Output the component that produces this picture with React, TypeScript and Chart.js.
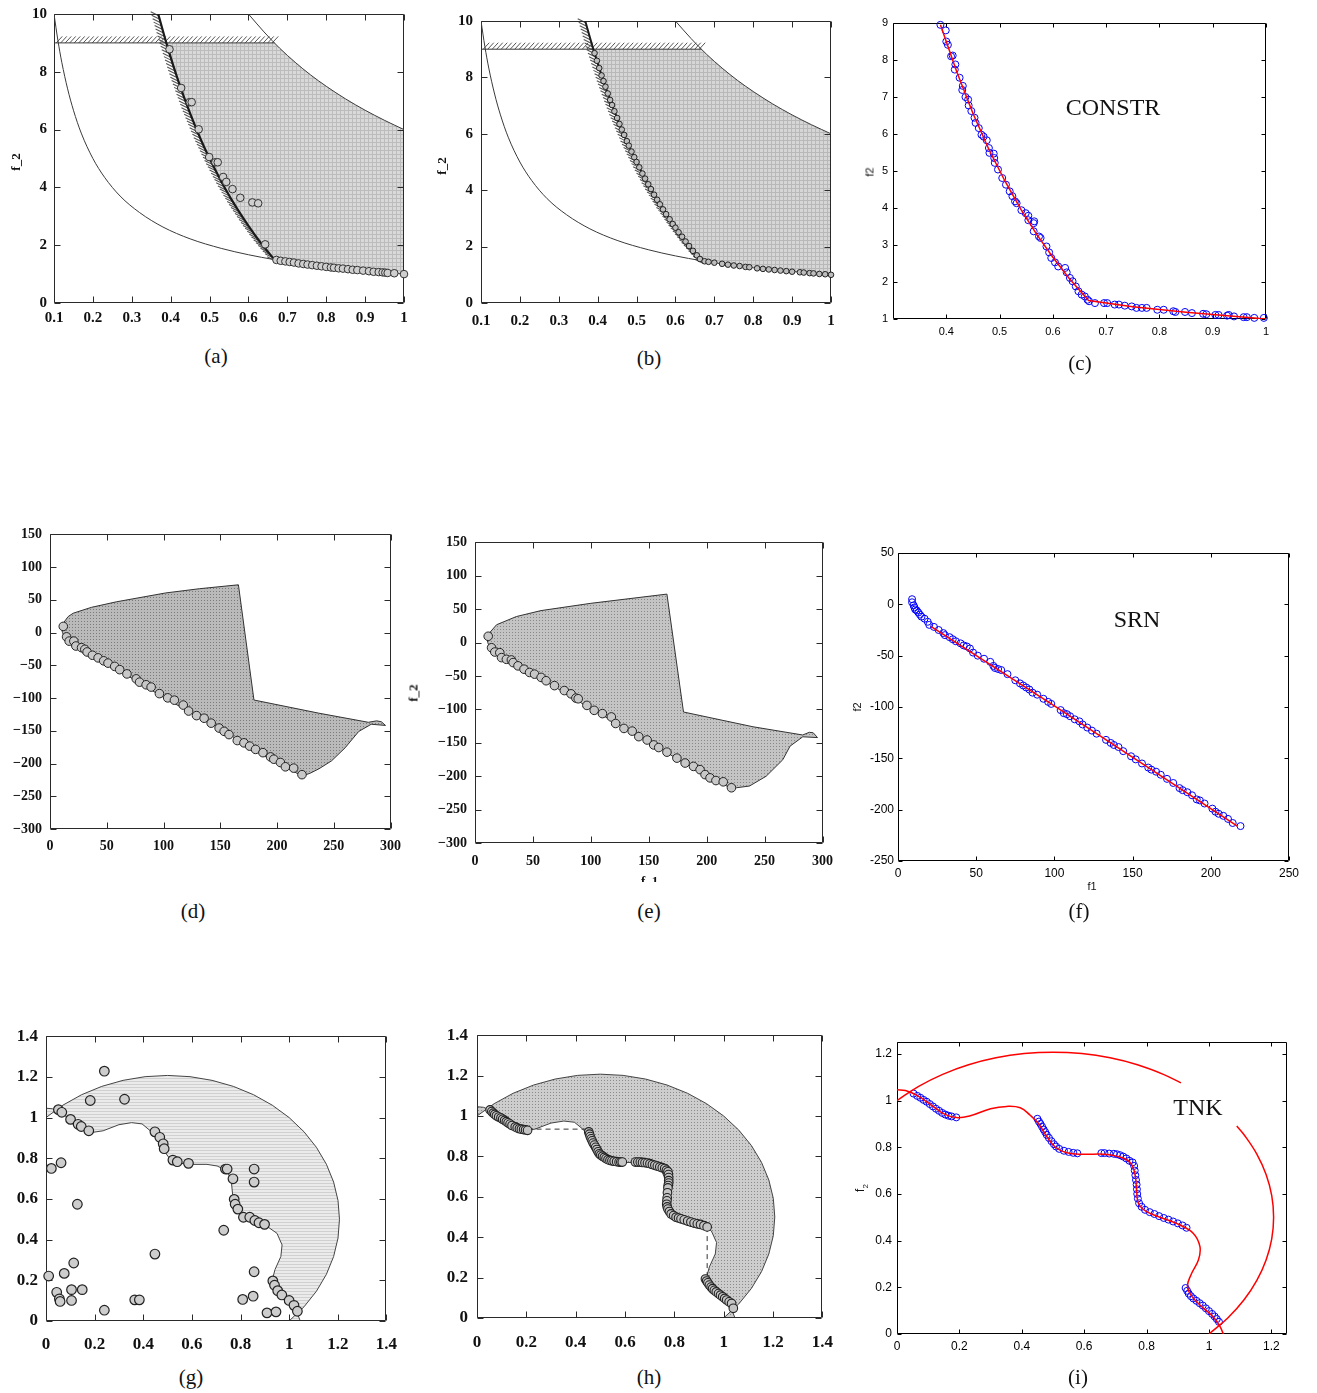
import React, { useEffect, useRef } from "react";
import { Chart, registerables } from "chart.js";

Chart.register(...registerables);

type XY = [number, number];

// ---------------- DATA ----------------
// CONSTR problem, panels (a) (b) (c)
const CONSTR_X_TICKS = [0.1, 0.2, 0.3, 0.4, 0.5, 0.6, 0.7, 0.8, 0.9, 1];
const CONSTR_Y_TICKS = [0, 2, 4, 6, 8, 10];
const CONSTR_C_X_TICKS = [0.4, 0.5, 0.6, 0.7, 0.8, 0.9, 1];
const CONSTR_C_Y_TICKS = [1, 2, 3, 4, 5, 6, 7, 8, 9];

const CONSTR_LOWER: XY[] = [[0.1, 10], [0.11, 9.09], [0.12, 8.33], [0.135, 7.41], [0.15, 6.67], [0.17, 5.88], [0.2, 5], [0.23, 4.35], [0.27, 3.7], [0.32, 3.13], [0.38, 2.63], [0.45, 2.22], [0.53, 1.89], [0.6, 1.67], [0.667, 1.5], [0.75, 1.33], [0.85, 1.18], [1, 1]];
const CONSTR_UPPER: XY[] = [[0.6, 10], [0.64, 9.38], [0.68, 8.82], [0.72, 8.33], [0.76, 7.89], [0.8, 7.5], [0.85, 7.06], [0.9, 6.67], [0.95, 6.32], [1, 6]];
const CONSTR_G1: XY[] = [[0.368, 10], [0.39, 8.95], [0.42, 7.67], [0.45, 6.56], [0.48, 5.58], [0.51, 4.73], [0.54, 3.96], [0.57, 3.28], [0.6, 2.67], [0.63, 2.11], [0.667, 1.5]];
const CONSTR_G1_HATCH: XY[] = [[0.368, 10], [0.39, 8.95], [0.42, 7.67], [0.45, 6.56], [0.48, 5.58], [0.51, 4.73], [0.54, 3.96], [0.57, 3.28], [0.6, 2.67], [0.63, 2.11], [0.667, 1.5], [0.673, 1.36]];
const CONSTR_G2: XY[] = [[0.1, 9], [0.667, 9]];
const CONSTR_REGION: XY[] = [[0.389, 9], [0.39, 8.95], [0.42, 7.67], [0.45, 6.56], [0.48, 5.58], [0.51, 4.73], [0.54, 3.96], [0.57, 3.28], [0.6, 2.67], [0.63, 2.11], [0.667, 1.5], [0.75, 1.33], [0.85, 1.18], [1, 1], [1, 6], [0.95, 6.32], [0.9, 6.67], [0.85, 7.06], [0.8, 7.5], [0.76, 7.89], [0.72, 8.33], [0.68, 8.82], [0.667, 9]];

const A_POINTS: XY[] = [[0.397, 8.78], [0.427, 7.44], [0.449, 6.95], [0.454, 6.95], [0.472, 6.01], [0.499, 5.05], [0.515, 4.87], [0.521, 4.87], [0.535, 4.36], [0.543, 4.19], [0.559, 3.94], [0.579, 3.64], [0.61, 3.48], [0.625, 3.45], [0.643, 2.03], [0.672, 1.49], [0.683, 1.46], [0.695, 1.44], [0.706, 1.42], [0.717, 1.4], [0.729, 1.37], [0.741, 1.35], [0.752, 1.33], [0.764, 1.31], [0.776, 1.29], [0.788, 1.27], [0.8, 1.25], [0.812, 1.23], [0.82, 1.22], [0.832, 1.2], [0.843, 1.19], [0.856, 1.17], [0.868, 1.15], [0.88, 1.14], [0.895, 1.12], [0.91, 1.1], [0.922, 1.08], [0.935, 1.07], [0.945, 1.06], [0.952, 1.05], [0.958, 1.04], [0.975, 1.03], [1.0, 1.0]];

const B_POINTS: XY[] = [[0.392, 8.86], [0.398, 8.59], [0.404, 8.33], [0.41, 8.07], [0.415, 7.87], [0.42, 7.67], [0.426, 7.43], [0.432, 7.2], [0.437, 7.02], [0.443, 6.8], [0.45, 6.56], [0.456, 6.35], [0.462, 6.15], [0.468, 5.96], [0.475, 5.74], [0.48, 5.58], [0.487, 5.37], [0.494, 5.17], [0.5, 5.0], [0.507, 4.81], [0.515, 4.59], [0.522, 4.41], [0.53, 4.21], [0.537, 4.04], [0.545, 3.84], [0.553, 3.66], [0.56, 3.5], [0.568, 3.32], [0.576, 3.15], [0.585, 2.97], [0.593, 2.8], [0.6, 2.67], [0.608, 2.51], [0.617, 2.35], [0.626, 2.18], [0.635, 2.02], [0.645, 1.85], [0.655, 1.69], [0.663, 1.56], [0.675, 1.48], [0.685, 1.46], [0.7, 1.43], [0.72, 1.39], [0.735, 1.36], [0.75, 1.33], [0.765, 1.31], [0.78, 1.28], [0.79, 1.27], [0.81, 1.23], [0.825, 1.21], [0.84, 1.19], [0.855, 1.17], [0.87, 1.15], [0.885, 1.13], [0.9, 1.11], [0.92, 1.09], [0.93, 1.08], [0.945, 1.06], [0.955, 1.05], [0.97, 1.03], [0.985, 1.02], [1.0, 1.0]];

const C_FRONT: XY[] = [[0.389, 8.95], [0.42, 7.67], [0.45, 6.56], [0.48, 5.58], [0.51, 4.73], [0.54, 3.96], [0.57, 3.28], [0.6, 2.67], [0.63, 2.11], [0.667, 1.5], [0.75, 1.33], [0.85, 1.18], [1, 1]];
const C_POINTS: XY[] = [[0.389, 8.95], [0.399, 8.8], [0.4, 8.5], [0.403, 8.41], [0.409, 8.1], [0.412, 8.12], [0.417, 7.88], [0.416, 7.74], [0.425, 7.52], [0.431, 7.3], [0.43, 7.19], [0.436, 7.0], [0.441, 6.93], [0.442, 6.77], [0.447, 6.62], [0.453, 6.44], [0.455, 6.3], [0.461, 6.16], [0.466, 5.98], [0.47, 5.93], [0.476, 5.83], [0.48, 5.62], [0.481, 5.49], [0.489, 5.47], [0.49, 5.35], [0.491, 5.22], [0.497, 5.04], [0.505, 4.81], [0.512, 4.63], [0.519, 4.45], [0.524, 4.32], [0.529, 4.18], [0.532, 4.13], [0.541, 3.94], [0.549, 3.86], [0.554, 3.79], [0.554, 3.67], [0.564, 3.59], [0.565, 3.64], [0.564, 3.37], [0.574, 3.23], [0.577, 3.19], [0.588, 2.96], [0.593, 2.8], [0.597, 2.65], [0.604, 2.53], [0.61, 2.42], [0.623, 2.38], [0.626, 2.26], [0.632, 2.11], [0.637, 2.02], [0.643, 1.88], [0.648, 1.75], [0.654, 1.66], [0.66, 1.61], [0.665, 1.52], [0.668, 1.48], [0.679, 1.43], [0.696, 1.43], [0.702, 1.43], [0.716, 1.39], [0.724, 1.39], [0.735, 1.36], [0.748, 1.34], [0.757, 1.3], [0.767, 1.3], [0.776, 1.3], [0.796, 1.25], [0.808, 1.25], [0.826, 1.21], [0.83, 1.19], [0.848, 1.19], [0.861, 1.16], [0.882, 1.14], [0.888, 1.13], [0.905, 1.11], [0.911, 1.11], [0.927, 1.09], [0.93, 1.11], [0.94, 1.07], [0.958, 1.05], [0.964, 1.05], [0.978, 1.03], [0.996, 1.03]];

// SRN problem, panels (d) (e) (f)
const SRN_X_TICKS = [0, 50, 100, 150, 200, 250, 300];
const SRN_Y_TICKS = [-300, -250, -200, -150, -100, -50, 0, 50, 100, 150];
const SRN_F_X_TICKS = [0, 50, 100, 150, 200, 250];
const SRN_F_Y_TICKS = [-250, -200, -150, -100, -50, 0, 50];

const D_REGION: XY[] = [[9.6, 9.5], [16, 24.5], [20.4, 29.6], [36.5, 38.6], [58.4, 47], [102, 60.6], [131.5, 67], [166, 73], [179.7, -103], [236.6, -123], [280.5, -137], [287.8, -134.8], [292, -136.2], [295.6, -141.8], [283, -140], [272, -151], [260, -176], [248, -196], [237, -208], [229, -215], [222, -219], [180, -180], [150, -147], [100, -99], [60, -57], [30, -27], [22, -21], [17, -15], [13, -8], [11, 0]];
const D_POINTS: XY[] = [[11.7, 9.5], [14.6, -6.5], [16.9, -13], [21, -13], [22.8, -20.5], [27.8, -23], [30.7, -25.6], [32.7, -29.6], [37.4, -34.6], [42.4, -38.6], [47.3, -43.1], [51.1, -46.6], [57, -51.6], [61.4, -56.6], [67.8, -63.1], [76, -70.7], [78.9, -75.7], [84.7, -79.7], [89.1, -83.2], [96.4, -93.2], [103.7, -99.7], [109.6, -103.2], [117.4, -110.7], [122.1, -119.8], [129.1, -126.8], [135.8, -130.8], [142, -138.3], [149, -145.8], [153.4, -150.8], [157.7, -155.8], [165, -164.9], [170.9, -168.4], [175.9, -173.4], [181.1, -178.4], [187.6, -183.4], [194.3, -189.9], [197.2, -193.4], [203, -198.4], [207.4, -205], [214.7, -207], [222, -217]];

const E_REGION: XY[] = [[10, 9.5], [18.6, 26.7], [35.7, 39], [57, 47.9], [100, 58.8], [165.7, 72.6], [180, -103.9], [240, -126], [282.9, -138.3], [288.6, -134.3], [292, -135], [295.7, -142.2], [283, -141], [272, -155], [265.7, -175.4], [251.4, -200], [237, -214.7], [225.7, -217.3], [222, -219], [180, -180], [150, -148], [100, -99], [60, -57], [30, -27], [22, -21], [17, -15], [13, -8], [11, 0]];
const E_POINTS: XY[] = [[11.4, 9.5], [14.3, -7.7], [17.1, -14.1], [21.4, -15.1], [22.9, -22.5], [27.1, -25], [31.4, -26], [32.9, -29.9], [37.1, -34.8], [42.3, -39.8], [47.1, -44.7], [51.4, -47.2], [57.1, -52.1], [61.4, -57.1], [68.6, -64.4], [77.1, -71.8], [82.9, -76.7], [87.1, -83.1], [89.1, -84.1], [96.6, -94], [102.9, -101.4], [110, -106.3], [117.7, -111.3], [121.4, -121.1], [128.6, -128.5], [135.7, -132.5], [141.4, -140.8], [148.6, -145.8], [154.3, -153.2], [158.6, -157.1], [165.7, -164], [174.3, -172.9], [181.4, -180.3], [188.6, -185.3], [194.3, -190.2], [198.6, -197.6], [202.9, -202.5], [208, -206.5], [214.3, -208.4], [221.4, -217.3]];

const F_FRONT: XY[] = [[21, -21.5], [100, -99], [217, -216]];
const F_POINTS: XY[] = [[9, 5], [9, 2], [10, -1], [10.5, -3], [11, -5], [12, -6], [13, -8], [14, -10], [15, -12], [17, -14], [19, -17], [20, -20], [23, -22], [26, -25], [29, -28], [30, -30], [33, -32], [35, -34], [37, -36], [40, -38], [42, -40], [44, -41], [46, -43], [48, -47], [51, -50], [55, -53], [59, -56], [61, -60], [62, -62], [64, -63], [66, -64], [70, -68], [75, -74], [78, -77], [80, -79], [82, -81], [84, -83], [86, -86], [89, -88], [93, -92], [96, -95], [98, -97], [104, -103], [106, -106], [108, -107], [110, -109], [113, -112], [116, -114], [118, -117], [121, -120], [124, -123], [127, -126], [133, -132], [136, -135], [138, -137], [141, -139], [144, -143], [149, -148], [152, -151], [156, -155], [160, -159], [162, -161], [165, -163], [168, -166], [172, -170], [176, -174], [180, -179], [182, -181], [185, -183], [188, -186], [191, -190], [193, -191], [196, -194], [201, -199], [203, -202], [205, -204], [208, -206], [211, -209], [214, -213], [219, -216]];

// TNK problem, panels (g) (h) (i)
const TNK_TICKS = [0, 0.2, 0.4, 0.6, 0.8, 1, 1.2, 1.4];
const TNK_I_TICKS = [0, 0.2, 0.4, 0.6, 0.8, 1, 1.2];
const TNK_ARC: XY[] = [[0, 1], [0.0695, 1.061], [0.1464, 1.1124], [0.2294, 1.1533], [0.317, 1.183], [0.4077, 1.2011], [0.5, 1.2071], [0.5923, 1.2011], [0.683, 1.183], [0.7706, 1.1533], [0.8536, 1.1124], [0.9305, 1.061], [1, 1], [1.061, 0.9305], [1.1124, 0.8536], [1.1533, 0.7706], [1.183, 0.683], [1.2011, 0.5923], [1.2071, 0.5], [1.2011, 0.4077], [1.183, 0.317], [1.1533, 0.2294], [1.1124, 0.1464], [1.061, 0.0695], [1, 0]];
const TNK_INNER: XY[] = [[0, 1.046], [0.027, 1.043], [0.064, 1.022], [0.107, 0.984], [0.149, 0.944], [0.19, 0.927], [0.235, 0.935], [0.3, 0.965], [0.352, 0.975], [0.395, 0.969], [0.427, 0.937], [0.454, 0.901], [0.48, 0.846], [0.507, 0.801], [0.544, 0.776], [0.6, 0.77], [0.662, 0.77], [0.704, 0.762], [0.745, 0.738], [0.762, 0.69], [0.768, 0.616], [0.774, 0.559], [0.8, 0.524], [0.854, 0.495], [0.907, 0.467], [0.95, 0.431], [0.971, 0.374], [0.966, 0.317], [0.942, 0.253], [0.931, 0.204], [0.945, 0.161], [0.982, 0.111], [1.014, 0.073], [1.035, 0.033], [1.046, 0]];
const I_ARC_TOP: XY[] = [[0, 1], [0.0695, 1.061], [0.1464, 1.1124], [0.2294, 1.1533], [0.317, 1.183], [0.4077, 1.2011], [0.5, 1.2071], [0.5923, 1.2011], [0.683, 1.183], [0.7706, 1.1533], [0.8536, 1.1124], [0.91, 1.076]];
const I_ARC_RIGHT: XY[] = [[1.089, 0.891], [1.1124, 0.8536], [1.1533, 0.7706], [1.183, 0.683], [1.2011, 0.5923], [1.2071, 0.5], [1.2011, 0.4077], [1.183, 0.317], [1.1533, 0.2294], [1.1124, 0.1464], [1.061, 0.0695], [1, 0]];

const G_POINTS: XY[] = [[0.24, 1.228], [0.182, 1.084], [0.323, 1.09], [0.051, 1.039], [0.065, 1.026], [0.101, 0.991], [0.132, 0.967], [0.145, 0.956], [0.176, 0.935], [0.022, 0.75], [0.062, 0.778], [0.129, 0.574], [0.448, 0.93], [0.468, 0.903], [0.482, 0.871], [0.486, 0.847], [0.522, 0.791], [0.54, 0.783], [0.586, 0.775], [0.738, 0.747], [0.745, 0.747], [0.769, 0.699], [0.774, 0.598], [0.778, 0.574], [0.789, 0.55], [0.812, 0.51], [0.838, 0.51], [0.859, 0.494], [0.876, 0.483], [0.899, 0.475], [0.856, 0.747], [0.856, 0.683], [0.731, 0.446], [0.448, 0.329], [0.856, 0.242], [0.933, 0.197], [0.94, 0.176], [0.953, 0.149], [0.97, 0.128], [1.0, 0.101], [1.02, 0.077], [1.034, 0.048], [0.011, 0.221], [0.044, 0.141], [0.055, 0.109], [0.058, 0.096], [0.075, 0.234], [0.114, 0.285], [0.105, 0.154], [0.149, 0.154], [0.105, 0.101], [0.24, 0.053], [0.365, 0.104], [0.384, 0.104], [0.809, 0.106], [0.852, 0.122], [0.909, 0.04], [0.946, 0.045]];

const H_DASH_TOP: XY[] = [[0.205, 0.935], [0.45, 0.935]];
const H_DASH_RIGHT: XY[] = [[0.933, 0.45], [0.933, 0.2]];
const H_POINTS: XY[] = [[0.053, 1.03], [0.06, 1.022], [0.066, 1.014], [0.072, 1.008], [0.079, 1.001], [0.088, 0.995], [0.097, 0.99], [0.104, 0.984], [0.112, 0.978], [0.119, 0.972], [0.126, 0.966], [0.134, 0.96], [0.142, 0.953], [0.155, 0.946], [0.163, 0.941], [0.172, 0.937], [0.18, 0.935], [0.189, 0.933], [0.197, 0.931], [0.205, 0.929], [0.453, 0.921], [0.456, 0.91], [0.459, 0.898], [0.463, 0.887], [0.467, 0.877], [0.471, 0.866], [0.476, 0.856], [0.481, 0.845], [0.486, 0.834], [0.491, 0.823], [0.496, 0.813], [0.502, 0.807], [0.509, 0.801], [0.516, 0.795], [0.523, 0.789], [0.531, 0.784], [0.539, 0.78], [0.547, 0.778], [0.556, 0.776], [0.566, 0.774], [0.576, 0.772], [0.583, 0.772], [0.589, 0.772], [0.642, 0.772], [0.652, 0.772], [0.662, 0.772], [0.671, 0.77], [0.681, 0.769], [0.691, 0.767], [0.701, 0.764], [0.711, 0.76], [0.721, 0.756], [0.731, 0.752], [0.741, 0.748], [0.751, 0.744], [0.761, 0.74], [0.768, 0.732], [0.774, 0.724], [0.776, 0.71], [0.777, 0.695], [0.777, 0.68], [0.777, 0.668], [0.775, 0.656], [0.774, 0.644], [0.772, 0.62], [0.771, 0.595], [0.77, 0.58], [0.769, 0.563], [0.771, 0.55], [0.774, 0.539], [0.78, 0.527], [0.787, 0.515], [0.797, 0.507], [0.807, 0.499], [0.817, 0.495], [0.827, 0.491], [0.84, 0.486], [0.854, 0.48], [0.867, 0.475], [0.88, 0.47], [0.893, 0.466], [0.906, 0.463], [0.92, 0.457], [0.933, 0.451], [0.926, 0.193], [0.931, 0.183], [0.936, 0.174], [0.942, 0.163], [0.949, 0.153], [0.955, 0.145], [0.962, 0.137], [0.97, 0.129], [0.979, 0.121], [0.987, 0.113], [0.996, 0.105], [1.004, 0.097], [1.012, 0.089], [1.022, 0.08], [1.032, 0.072], [1.039, 0.048]];

const I_POINTS: XY[] = [[0.053, 1.03], [0.065, 1.02], [0.075, 1.012], [0.085, 1.003], [0.095, 0.995], [0.105, 0.985], [0.115, 0.975], [0.125, 0.965], [0.135, 0.956], [0.145, 0.947], [0.155, 0.94], [0.165, 0.935], [0.175, 0.932], [0.19, 0.928], [0.45, 0.922], [0.455, 0.91], [0.46, 0.9], [0.465, 0.888], [0.47, 0.876], [0.475, 0.865], [0.48, 0.853], [0.487, 0.84], [0.495, 0.826], [0.503, 0.813], [0.51, 0.803], [0.52, 0.793], [0.535, 0.785], [0.55, 0.78], [0.565, 0.776], [0.578, 0.774], [0.655, 0.775], [0.665, 0.775], [0.68, 0.773], [0.695, 0.772], [0.705, 0.77], [0.715, 0.766], [0.725, 0.76], [0.735, 0.752], [0.745, 0.742], [0.755, 0.735], [0.76, 0.72], [0.762, 0.7], [0.764, 0.68], [0.766, 0.66], [0.768, 0.64], [0.769, 0.62], [0.77, 0.6], [0.772, 0.58], [0.776, 0.56], [0.784, 0.545], [0.795, 0.532], [0.81, 0.522], [0.825, 0.514], [0.84, 0.505], [0.855, 0.497], [0.87, 0.49], [0.885, 0.482], [0.9, 0.474], [0.915, 0.465], [0.928, 0.455], [0.925, 0.197], [0.93, 0.185], [0.935, 0.173], [0.942, 0.162], [0.95, 0.152], [0.96, 0.142], [0.97, 0.132], [0.98, 0.122], [0.99, 0.11], [1.0, 0.098], [1.01, 0.086], [1.018, 0.075], [1.025, 0.064], [1.032, 0.052]];

// ---------------- STYLE / LAYOUT ----------------
const SERIF = "'Liberation Serif', 'Times New Roman', serif";
const SANS = "'Liberation Sans', Arial, Helvetica, sans-serif";
const YW = 50, XH = 34, PL = 4, PT = 12, PR = 18, PB = 4;

const toPts = (a: XY[]) => a.map(([x, y]) => ({ x, y }));

function makePattern(base: string, ink: string, kind: string): any {
  const n = kind === "grid" ? 4 : 3;
  const c = document.createElement("canvas");
  c.width = n; c.height = n;
  const g = c.getContext("2d");
  if (!g) return base;
  g.fillStyle = base; g.fillRect(0, 0, n, n);
  g.fillStyle = ink;
  if (kind === "grid") { g.fillRect(0, 0, n, 1); g.fillRect(0, 0, 1, n); }
  else if (kind === "dots") { g.fillRect(1, 1, 1, 1); }
  else if (kind === "hlines") { g.fillRect(0, 0, n, 1); }
  return g.createPattern(c, "repeat") || base;
}

const regionPlugin = {
  id: "regionFill",
  beforeDatasetsDraw(chart: any) {
    const ctx = chart.ctx, a = chart.chartArea;
    chart.data.datasets.forEach((ds: any, i: number) => {
      if (!ds.region) return;
      const pts = chart.getDatasetMeta(i).data;
      if (!pts.length) return;
      ctx.save();
      ctx.beginPath(); ctx.rect(a.left, a.top, a.right - a.left, a.bottom - a.top); ctx.clip();
      ctx.beginPath();
      pts.forEach((p: any, k: number) => (k ? ctx.lineTo(p.x, p.y) : ctx.moveTo(p.x, p.y)));
      ctx.closePath();
      ctx.fillStyle = ds.region.fill; ctx.fill();
      if (ds.region.stroke) { ctx.strokeStyle = ds.region.stroke; ctx.lineWidth = 1; ctx.lineJoin = "round"; ctx.stroke(); }
      ctx.restore();
    });
  },
};

const hatchPlugin = {
  id: "hatchMarks",
  beforeDatasetsDraw(chart: any) {
    const ctx = chart.ctx;
    chart.data.datasets.forEach((ds: any, i: number) => {
      const h = ds.hatch;
      if (!h) return;
      const pts = chart.getDatasetMeta(i).data;
      ctx.save();
      ctx.strokeStyle = h.color; ctx.lineWidth = h.width;
      ctx.beginPath();
      let t = h.step / 2;
      for (let k = 1; k < pts.length; k++) {
        const x0 = pts[k - 1].x, y0 = pts[k - 1].y, x1 = pts[k].x, y1 = pts[k].y;
        const L = Math.hypot(x1 - x0, y1 - y0);
        while (t <= L) {
          const px = x0 + ((x1 - x0) * t) / L, py = y0 + ((y1 - y0) * t) / L;
          ctx.moveTo(px, py); ctx.lineTo(px + h.dx, py + h.dy);
          t += h.step;
        }
        t -= L;
      }
      ctx.stroke();
      ctx.restore();
    });
  },
};

function framePlugin(color: string, len: number) {
  return {
    id: "boxFrame",
    beforeDatasetsDraw(chart: any) {
      const { ctx, chartArea: a, scales } = chart;
      const l = Math.round(a.left) + 0.5, r = Math.round(a.right) - 0.5;
      const t = Math.round(a.top) + 0.5, b = Math.round(a.bottom) - 0.5;
      ctx.save();
      ctx.strokeStyle = color; ctx.lineWidth = 1;
      ctx.beginPath();
      ctx.rect(l, t, r - l, b - t);
      scales.x.ticks.forEach((tk: any) => {
        const px = Math.round(scales.x.getPixelForValue(tk.value)) + 0.5;
        ctx.moveTo(px, b); ctx.lineTo(px, b - len);
        ctx.moveTo(px, t); ctx.lineTo(px, t + len);
      });
      scales.y.ticks.forEach((tk: any) => {
        const py = Math.round(scales.y.getPixelForValue(tk.value)) + 0.5;
        ctx.moveTo(l, py); ctx.lineTo(l + len, py);
        ctx.moveTo(r, py); ctx.lineTo(r - len, py);
      });
      ctx.stroke();
      ctx.restore();
    },
  };
}

const regionDs = (a: XY[], fill: any, stroke?: string) => ({ data: toPts(a), showLine: false, pointRadius: 0, pointHoverRadius: 0, region: { fill, stroke }, order: 5 });
const lineDs = (a: XY[], color: string, width: number, extra: any = {}) => ({ data: toPts(a), showLine: true, pointRadius: 0, pointHoverRadius: 0, borderColor: color, borderWidth: width, fill: false, tension: 0, order: 3, ...extra });
const hatchDs = (a: XY[], hatch: any) => ({ data: toPts(a), showLine: false, pointRadius: 0, pointHoverRadius: 0, hatch, order: 6 });
const dotDs = (a: XY[], r: number, fillC: string, stroke: string, bw: number, order = 2) => ({ data: toPts(a), showLine: false, pointRadius: r, pointHoverRadius: r, pointBackgroundColor: fillC, pointBorderColor: stroke, pointBorderWidth: bw, clip: false, order });

const G1_HATCH = { dx: -8, dy: -4, step: 3.6, color: "#555", width: 1.1 };
const G2_HATCH = { dx: 6, dy: -6.5, step: 4.5, color: "#555", width: 1 };

const PANELS: any[] = [
  {
    id: "a", box: [54, 10, 404, 303], style: "serif", fontSize: 15, xPad: 6, yPad: 7,
    x: { min: 0.1, max: 1, ticks: CONSTR_X_TICKS }, y: { min: 0, max: 10, ticks: CONSTR_Y_TICKS },
    make: () => [
      regionDs(CONSTR_REGION, makePattern("#d9d9d9", "#bcbcbc", "grid")),
      hatchDs(CONSTR_G1_HATCH, G1_HATCH),
      hatchDs(CONSTR_G2, G2_HATCH),
      lineDs(CONSTR_LOWER, "#3a3a3a", 1, { cubicInterpolationMode: "monotone" }),
      lineDs(CONSTR_UPPER, "#3a3a3a", 1, { cubicInterpolationMode: "monotone" }),
      lineDs(CONSTR_G1, "#1a1a1a", 2.2, { cubicInterpolationMode: "monotone" }),
      lineDs(CONSTR_G2, "#3a3a3a", 1),
      dotDs(A_POINTS, 3.8, "#cfcfcf", "#333", 1),
    ],
  },
  {
    id: "b", box: [481, 16, 831, 303], style: "serif", fontSize: 15, xPad: 9, yPad: 8,
    x: { min: 0.1, max: 1, ticks: CONSTR_X_TICKS }, y: { min: 0, max: 10, ticks: CONSTR_Y_TICKS },
    make: () => [
      regionDs(CONSTR_REGION, makePattern("#d6d6d6", "#b8b8b8", "grid")),
      hatchDs(CONSTR_G1_HATCH, G1_HATCH),
      hatchDs(CONSTR_G2, G2_HATCH),
      lineDs(CONSTR_LOWER, "#3a3a3a", 1, { cubicInterpolationMode: "monotone" }),
      lineDs(CONSTR_UPPER, "#3a3a3a", 1, { cubicInterpolationMode: "monotone" }),
      lineDs(CONSTR_G1, "#1a1a1a", 2, { cubicInterpolationMode: "monotone" }),
      lineDs(CONSTR_G2, "#3a3a3a", 1),
      dotDs(B_POINTS, 2.8, "#bdbdbd", "#222", 1),
    ],
  },
  {
    id: "c", box: [893, 23, 1266, 319], style: "matlab", fontSize: 11, xPad: 6, yPad: 5,
    x: { min: 0.3, max: 1, ticks: CONSTR_C_X_TICKS }, y: { min: 1, max: 9, ticks: CONSTR_C_Y_TICKS },
    make: () => [
      lineDs(C_FRONT, "#ff0000", 1.5, { order: 1 }),
      dotDs(C_POINTS, 3.5, "rgba(0,0,0,0)", "#0000ff", 1),
    ],
  },
  {
    id: "d", box: [50, 530, 392, 829], style: "serif", fontSize: 14, xPad: 9, yPad: 8,
    x: { min: 0, max: 300, ticks: SRN_X_TICKS }, y: { min: -300, max: 150, ticks: SRN_Y_TICKS },
    make: () => [
      regionDs(D_REGION, makePattern("#bababa", "#7a7a7a", "dots"), "#333"),
      dotDs(D_POINTS, 4.3, "#c8c8c8", "#222", 1),
    ],
  },
  {
    id: "e", box: [475, 538, 825, 843], style: "serif", fontSize: 14, xPad: 10, yPad: 8,
    x: { min: 0, max: 300, ticks: SRN_X_TICKS }, y: { min: -300, max: 150, ticks: SRN_Y_TICKS },
    make: () => [
      regionDs(E_REGION, makePattern("#c4c4c4", "#888888", "dots"), "#333"),
      dotDs(E_POINTS, 4.3, "#c8c8c8", "#222", 1),
    ],
  },
  {
    id: "f", box: [898, 553, 1289, 861], style: "matlab", fontSize: 12, xPad: 5, yPad: 4,
    x: { min: 0, max: 250, ticks: SRN_F_X_TICKS }, y: { min: -250, max: 50, ticks: SRN_F_Y_TICKS },
    make: () => [
      lineDs(F_FRONT, "#ff0000", 1.5, { order: 1 }),
      dotDs(F_POINTS, 3.5, "rgba(0,0,0,0)", "#0000ff", 1),
    ],
  },
  {
    id: "g", box: [46, 1030, 392, 1321], style: "serif", fontSize: 17, xPad: 13, yPad: 8,
    x: { min: 0, max: 1.4, ticks: TNK_TICKS }, y: { min: 0, max: 1.4, ticks: TNK_TICKS },
    make: () => [
      regionDs([...TNK_ARC, ...TNK_INNER.slice().reverse()], makePattern("#ebebeb", "#d0d0d0", "hlines"), "#444"),
      dotDs(G_POINTS, 4.8, "#cdcdcd", "#222", 1.2),
    ],
  },
  {
    id: "h", box: [477, 1028, 829, 1318], style: "serif", fontSize: 17, xPad: 14, yPad: 9,
    x: { min: 0, max: 1.4, ticks: TNK_TICKS }, y: { min: 0, max: 1.4, ticks: TNK_TICKS },
    make: () => [
      regionDs([...TNK_ARC, ...TNK_INNER.slice().reverse()], makePattern("#cdcdcd", "#8a8a8a", "dots"), "#444"),
      lineDs(H_DASH_TOP, "#333", 1, { borderDash: [5, 4] }),
      lineDs(H_DASH_RIGHT, "#333", 1, { borderDash: [5, 4] }),
      dotDs(H_POINTS, 4.3, "#c4c4c4", "#222", 1.1),
    ],
  },
  {
    id: "i", box: [897, 1042, 1287, 1334], style: "matlab", fontSize: 12, xPad: 5, yPad: 5,
    x: { min: 0, max: 1.25, ticks: TNK_I_TICKS }, y: { min: 0, max: 1.25, ticks: TNK_I_TICKS },
    make: () => [
      lineDs(I_ARC_TOP, "#ff0000", 1.5, { tension: 0.4, order: 1 }),
      lineDs(I_ARC_RIGHT, "#ff0000", 1.5, { tension: 0.4, order: 1 }),
      lineDs(TNK_INNER, "#ff0000", 1.5, { tension: 0.4, order: 1 }),
      dotDs(I_POINTS, 3.5, "rgba(0,0,0,0)", "#0000ff", 1),
    ],
  },
];

function buildConfig(p: any): any {
  const serif = p.style === "serif";
  const minus = serif ? "\u2212" : "-";
  const font = { family: serif ? SERIF : SANS, size: p.fontSize, weight: serif ? "bold" : "normal" };
  const color = serif ? "#111" : "#000";
  const fmt = (v: any) => String(Math.round(Number(v) * 1000) / 1000).replace("-", minus);
  const axis = (ax: any, isX: boolean) => ({
    type: "linear",
    position: isX ? "bottom" : "left",
    min: ax.min,
    max: ax.max,
    afterBuildTicks: (s: any) => { s.ticks = ax.ticks.map((v: number) => ({ value: v })); },
    afterFit: (s: any) => { if (isX) s.height = XH; else s.width = YW; },
    grid: { display: false, drawTicks: false },
    border: { display: false },
    ticks: { font, color, padding: isX ? p.xPad : p.yPad, maxRotation: 0, minRotation: 0, autoSkip: false, callback: fmt },
  });
  return {
    type: "scatter",
    data: { datasets: p.make() },
    options: {
      responsive: false,
      animation: false,
      events: [],
      layout: { padding: { left: PL, top: PT, right: PR, bottom: PB } },
      plugins: { legend: { display: false }, tooltip: { enabled: false } },
      scales: { x: axis(p.x, true), y: axis(p.y, false) },
    },
    plugins: [regionPlugin, hatchPlugin, framePlugin(serif ? "#2a2a2a" : "#000", serif ? 6 : 4)],
  };
}

function Panel({ p }: { p: any }) {
  const ref = useRef<HTMLCanvasElement>(null);
  const w = p.box[2] - p.box[0] + YW + PL + PR;
  const h = p.box[3] - p.box[1] + PT + XH + PB;
  const left = p.box[0] - YW - PL;
  const top = p.box[1] - PT;
  useEffect(() => {
    if (!ref.current) return;
    const chart = new Chart(ref.current, buildConfig(p));
    return () => chart.destroy();
  }, []);
  return <canvas ref={ref} width={w} height={h} style={{ position: "absolute", left, top, width: w, height: h }} />;
}

type Txt = { x: number; y: number; t: any; f: string; rot?: boolean };
const TEXTS: Txt[] = [
  { x: 216, y: 356, t: "(a)", f: `21px ${SERIF}` },
  { x: 649, y: 358, t: "(b)", f: `21px ${SERIF}` },
  { x: 1080, y: 363, t: "(c)", f: `21px ${SERIF}` },
  { x: 193, y: 911, t: "(d)", f: `21px ${SERIF}` },
  { x: 649, y: 911, t: "(e)", f: `21px ${SERIF}` },
  { x: 1079, y: 911, t: "(f)", f: `21px ${SERIF}` },
  { x: 191, y: 1377, t: "(g)", f: `21px ${SERIF}` },
  { x: 649, y: 1377, t: "(h)", f: `21px ${SERIF}` },
  { x: 1078, y: 1377, t: "(i)", f: `21px ${SERIF}` },
  { x: 15, y: 162, t: "f_2", f: `bold 13px ${SERIF}`, rot: true },
  { x: 441, y: 166, t: "f_2", f: `bold 13px ${SERIF}`, rot: true },
  { x: 413, y: 693, t: "f_2", f: `bold 13px ${SERIF}`, rot: true },
  { x: 870, y: 172, t: "f2", f: `11px ${SANS}`, rot: true },
  { x: 857, y: 707, t: "f2", f: `11px ${SANS}`, rot: true },
  { x: 1092, y: 886, t: "f1", f: `11px ${SANS}` },
  { x: 862, y: 1188, t: <span>f<sub style={{ fontSize: 8 }}>2</sub></span>, f: `12px ${SANS}`, rot: true },
  { x: 1113, y: 107, t: "CONSTR", f: `24px ${SERIF}` },
  { x: 1137, y: 619, t: "SRN", f: `24px ${SERIF}` },
  { x: 1198, y: 1107, t: "TNK", f: `24px ${SERIF}` },
];

export default function App() {
  return (
    <div style={{ position: "absolute", left: 0, top: 0, width: 1317, height: 1393, background: "#fff", overflow: "hidden" }}>
      {PANELS.map((p) => <Panel key={p.id} p={p} />)}
      {TEXTS.map((t, i) => (
        <div key={i} style={{ position: "absolute", left: t.x, top: t.y, transform: `translate(-50%, -50%)${t.rot ? " rotate(-90deg)" : ""}`, font: t.f, color: "#111", whiteSpace: "nowrap", lineHeight: 1 }}>{t.t}</div>
      ))}
      <div style={{ position: "absolute", left: 641, top: 874, width: 22, height: 8, overflow: "hidden" }}>
        <div style={{ font: `bold 13px ${SERIF}`, lineHeight: 1, color: "#111", whiteSpace: "nowrap" }}>f_1</div>
      </div>
    </div>
  );
}
